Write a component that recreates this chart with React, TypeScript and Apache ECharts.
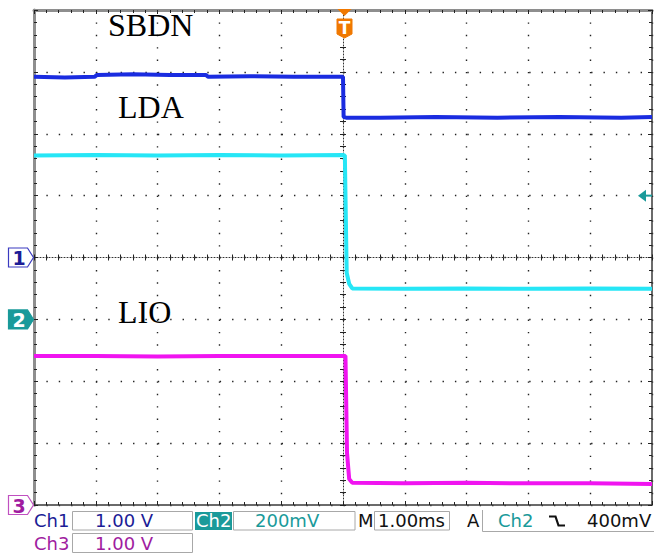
import React, { useEffect, useRef } from "react";
import * as echarts from "echarts";

// ---- Oscilloscope settings ----
const timeMin = -5; // ms (1.00 ms/div, trigger at centre)
const timeMax = 5;
const divMin = -4;
const divMax = 4;

// ---- Traces ----
const sbdnTime = [-5, -4.5, -4.02, -3.98, -3.4, -2.8, -2.22, -2.18, -1.5, -0.8, 0, 0.01, 0.05, 0.6, 1.5, 2.5, 3.5, 4.5, 5];
const sbdnVolts = [2.92, 2.91, 2.92, 2.95, 2.96, 2.95, 2.95, 2.92, 2.93, 2.92, 2.92, 2.27, 2.26, 2.26, 2.27, 2.26, 2.27, 2.26, 2.27];

const ldaTime = [-5, -4, -3, -2, -1, 0, 0.03, 0.06, 0.1, 0.15, 1, 2, 3, 4, 5];
const ldaMillivolts = [530, 531, 530, 531, 530, 531, 530, 150, 115, 100, 99, 100, 99, 100, 99];

const lioTime = [-5, -4, -3, -2, -1, 0, 0.04, 0.065, 0.1, 0.15, 1, 2, 3, 4, 5];
const lioVolts = [2.41, 2.41, 2.4, 2.41, 2.41, 2.41, 2.41, 0.84, 0.42, 0.36, 0.35, 0.36, 0.35, 0.35, 0.34];

const traceNames = ["SBDN", "LDA", "LIO"];
const channelScales = [1, 200, 1]; // V/div, mV/div, V/div
const channelGrounds = [0, -1, -4]; // ground marker position in divisions
const channelColors = ["#1a2ce0", "#26e6f6", "#f014f0"];
const markerLabels = ["1", "2", "3"];
const triggerLevelMv = 400;

// ---- Status bar texts ----
const ch1Label = "Ch1";
const ch1Scale = "1.00 V";
const ch2Label = "Ch2";
const ch2Scale = "200mV";
const timebaseLabel = "M";
const timebaseValue = "1.00ms";
const triggerModeLabel = "A";
const triggerSource = "Ch2";
const triggerLevelText = "400mV";
const ch3Label = "Ch3";
const ch3Scale = "1.00 V";

const TEAL = "#1a9a9a";
const DARKBLUE = "#1c1c96";
const PURPLE = "#a01ca0";
const STATUS_FONT = "18px 'DejaVu Sans'";
const dots: number[] = [1.4, 10.98];

function txt(x: number, y: number, text: string, fill: string, font: string, align = "left") {
  return {
    type: "text",
    x,
    y,
    silent: true,
    z: 20,
    style: { text, fill, font, align, verticalAlign: "middle", textAlign: align, textVerticalAlign: "middle" },
  };
}

export default function App() {
  const ref = useRef<HTMLDivElement>(null);

  useEffect(() => {
    document.body.style.margin = "0";
    if (!ref.current) return;
    const chart = echarts.init(ref.current, null, { renderer: "svg" });

    const tickStyle = { color: "#222", width: 1 };
    const xBase = { type: "value", min: timeMin, max: timeMax, interval: 1, axisLabel: { show: false }, splitLine: { show: false } };
    const yBase = { type: "value", min: divMin, max: divMax, interval: 1, axisLabel: { show: false }, splitLine: { show: false } };
    const minor = { show: true, splitNumber: 5, length: 3, lineStyle: tickStyle };

    const toDiv = (vals: number[], i: number) => vals.map((v) => v / channelScales[i] + channelGrounds[i]);
    const traces = [
      [sbdnTime, toDiv(sbdnVolts, 0)],
      [ldaTime, toDiv(ldaMillivolts, 1)],
      [lioTime, toDiv(lioVolts, 2)],
    ];

    const option: any = {
      animation: false,
      backgroundColor: "#ffffff",
      grid: { left: 34, right: 2, top: 10, bottom: 50, outerBoundsMode: "none" },
      xAxis: [
        {
          ...xBase,
          position: "bottom",
          axisLine: { show: true, onZero: false, lineStyle: { color: "#3a3a3a", width: 1.5 } },
          axisTick: { show: true, inside: true, length: 4, lineStyle: tickStyle },
          minorTick: minor,
          splitLine: { show: true, lineStyle: { color: "#222", width: 1.4, type: dots } },
        },
        {
          ...xBase,
          position: "top",
          axisLine: { show: true, onZero: false, lineStyle: { color: "#8e8e8e", width: 3 } },
          axisTick: { show: true, inside: true, length: 4, lineStyle: tickStyle },
          minorTick: minor,
        },
        {
          ...xBase,
          position: "bottom",
          axisLine: { show: true, onZero: true, onZeroAxisIndex: 0, lineStyle: { color: "#333", width: 1, type: [1, 2] } },
          axisTick: { show: true, inside: true, length: 3, lineStyle: tickStyle },
          minorTick: minor,
        },
        {
          ...xBase,
          position: "bottom",
          axisLine: { show: true, onZero: true, onZeroAxisIndex: 0, lineStyle: { opacity: 0 } },
          axisTick: { show: true, inside: false, length: 3, lineStyle: tickStyle },
          minorTick: minor,
        },
      ],
      yAxis: [
        {
          ...yBase,
          position: "left",
          axisLine: { show: true, onZero: false, lineStyle: { color: "#8e8e8e", width: 3 } },
          axisTick: { show: true, inside: true, length: 4, lineStyle: tickStyle },
          minorTick: minor,
          splitLine: { show: true, lineStyle: { color: "#222", width: 1.4, type: dots } },
        },
        {
          ...yBase,
          position: "right",
          axisLine: { show: true, onZero: false, lineStyle: { color: "#3a3a3a", width: 1.5 } },
          axisTick: { show: true, inside: true, length: 4, lineStyle: tickStyle },
          minorTick: minor,
        },
        {
          ...yBase,
          position: "left",
          axisLine: { show: true, onZero: true, onZeroAxisIndex: 0, lineStyle: { color: "#333", width: 1, type: [1, 2] } },
          axisTick: { show: true, inside: true, length: 3, lineStyle: tickStyle },
          minorTick: minor,
        },
        {
          ...yBase,
          position: "left",
          axisLine: { show: true, onZero: true, onZeroAxisIndex: 0, lineStyle: { opacity: 0 } },
          axisTick: { show: true, inside: false, length: 3, lineStyle: tickStyle },
          minorTick: minor,
        },
      ],
      series: traces.map(([ts, ds], i) => ({
        name: traceNames[i],
        type: "line",
        xAxisIndex: 0,
        yAxisIndex: 0,
        showSymbol: false,
        symbol: "none",
        silent: true,
        z: 5,
        lineStyle: { color: channelColors[i], width: 4 },
        itemStyle: { color: channelColors[i] },
        data: (ts as number[]).map((t, k) => [t, (ds as number[])[k]]),
      })),
    };
    chart.setOption(option);

    const px = (t: number, d: number) => chart.convertToPixel({ xAxisIndex: 0, yAxisIndex: 0 }, [t, d]) as number[];
    const g: any[] = [];

    // trace names
    const serif = "32px 'Liberation Serif', 'Times New Roman', serif";
    g.push(txt(108, 24.5, traceNames[0], "#000", serif));
    g.push(txt(118, 107, traceNames[1], "#000", serif));
    g.push(txt(118, 311.5, traceNames[2], "#000", serif));

    // channel ground markers
    const markerStyles = [
      { fill: "#ffffff", stroke: "#3a3ac0", text: DARKBLUE },
      { fill: TEAL, stroke: TEAL, text: "#ffffff" },
      { fill: "#ffffff", stroke: "#c050c0", text: PURPLE },
    ];
    channelGrounds.forEach((gd, i) => {
      const y = px(0, gd)[1];
      const left = 8.5;
      const tip = 33.5;
      g.push({
        type: "polygon",
        silent: true,
        z: 20,
        shape: { points: [[left, y - 9.5], [tip - 6, y - 9.5], [tip, y], [tip - 6, y + 9.5], [left, y + 9.5]] },
        style: { fill: markerStyles[i].fill, stroke: markerStyles[i].stroke, lineWidth: 1.2 },
      });
      g.push(txt(19, y + 0.5, markerLabels[i], markerStyles[i].text, "bold 19px 'DejaVu Sans'", "center"));
    });

    // trigger position marker (top)
    const cx = px(0, 0)[0] + 1.5;
    g.push({
      type: "polygon",
      silent: true,
      z: 20,
      shape: { points: [[cx - 7, 9], [cx + 7, 9], [cx, 16]] },
      style: { fill: "#f07800" },
    });
    g.push({
      type: "polygon",
      silent: true,
      z: 20,
      shape: { points: [[cx - 7.5, 19], [cx + 7.5, 19], [cx + 7.5, 34], [cx, 38], [cx - 7.5, 34]] },
      style: { fill: "#f07800", stroke: "#f07800", lineWidth: 1, lineJoin: "round" },
    });
    g.push(txt(cx, 27.5, "T", "#ffffff", "bold 17px 'DejaVu Sans'", "center"));

    // trigger level marker (right)
    const ty = px(0, triggerLevelMv / channelScales[1] + channelGrounds[1])[1];
    const rightX = px(timeMax, 0)[0];
    g.push({
      type: "polygon",
      silent: true,
      z: 20,
      shape: { points: [[rightX - 14, ty], [rightX - 6, ty - 6], [rightX - 6, ty + 6]] },
      style: { fill: TEAL },
    });
    g.push({
      type: "line",
      silent: true,
      z: 20,
      shape: { x1: rightX - 7, y1: ty, x2: rightX, y2: ty },
      style: { stroke: TEAL, lineWidth: 2 },
    });

    // status bar
    const r1 = 520.5;
    const r2 = 543;
    const box = (x: number, y: number, w: number, h: number) => ({
      type: "rect",
      silent: true,
      z: 15,
      shape: { x, y, width: w, height: h },
      style: { fill: "none", stroke: "#a8a8a8", lineWidth: 1 },
    });
    g.push(box(72.5, 511.5, 120, 18.5));
    g.push({ type: "rect", silent: true, z: 15, shape: { x: 195, y: 512, width: 37, height: 18 }, style: { fill: TEAL } });
    g.push(box(233.5, 511.5, 121.5, 18.5));
    g.push(box(374.5, 511.5, 75, 18.5));
    g.push({
      type: "polyline",
      silent: true,
      z: 15,
      shape: { points: [[482.5, 510], [482.5, 531.5], [654, 531.5]] },
      style: { stroke: "#a8a8a8", lineWidth: 1, fill: "none" },
    });
    g.push(box(72.5, 533.5, 120, 19));

    g.push(txt(34, r1, ch1Label, DARKBLUE, STATUS_FONT));
    g.push(txt(95, r1, ch1Scale, DARKBLUE, STATUS_FONT));
    g.push(txt(196, r1, ch2Label, "#ffffff", STATUS_FONT));
    g.push(txt(255, r1, ch2Scale, TEAL, STATUS_FONT));
    g.push(txt(358, r1, timebaseLabel, "#111", STATUS_FONT));
    g.push(txt(378, r1, timebaseValue, "#111", STATUS_FONT));
    g.push(txt(467, r1, triggerModeLabel, "#111", STATUS_FONT));
    g.push(txt(498, r1, triggerSource, TEAL, STATUS_FONT));
    g.push({
      type: "polyline",
      silent: true,
      z: 20,
      shape: { points: [[549, 516.5], [555.5, 516.5], [558.5, 525.5], [565, 525.5]] },
      style: { stroke: "#111", lineWidth: 2.2, fill: "none" },
    });
    g.push(txt(587, r1, triggerLevelText, "#111", STATUS_FONT));
    g.push(txt(34, r2, ch3Label, PURPLE, STATUS_FONT));
    g.push(txt(95, r2, ch3Scale, PURPLE, STATUS_FONT));

    chart.setOption({ graphic: g });

    return () => {
      chart.dispose();
    };
  }, []);

  return <div ref={ref} style={{ width: 654, height: 555, position: "absolute", left: 0, top: 0 }} />;
}
